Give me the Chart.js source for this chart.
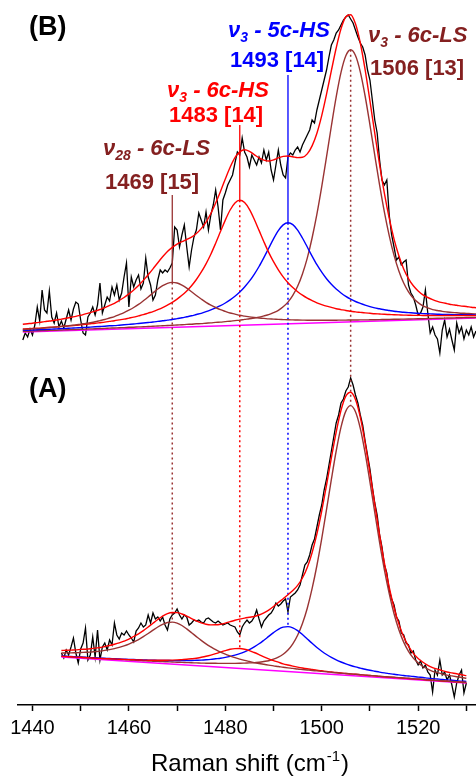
<!DOCTYPE html>
<html>
<head>
<meta charset="utf-8">
<title>Raman spectra</title>
<script src="https://cdn.jsdelivr.net/npm/chart.js"></script>
<style>
  html, body { margin: 0; padding: 0; background: #fff; }
  #wrap { width: 476px; height: 777px; }
</style>
</head>
<body>
<div id="wrap"><canvas id="ramanChart" width="476" height="777"></canvas></div>
<script>
// Raman shift sampling (cm-1): raw spectra every 0.5, fitted curves every 1
var rawStep = 0.5;
var fitStep = 1;
var startB = 1438;
var startA = 1446;

// band assignments
var bandCenters = [1469, 1483, 1493, 1506];
var bandWidths = [15, 14, 14, 13];
var bandModes = ['28', '3', '3', '3'];
var bandStates = ['6c-LS', '6c-HS', '5c-HS', '6c-LS'];

// ---- spectrum (B), intensities are offset above (A) ----
var spectrumB = [
  365, 372, 368, 376, 370, 380, 398, 384, 415, 395, 392, 414, 388, 382, 392, 378, 384, 377, 386, 395,
  385, 396, 403, 401, 385, 372, 370, 388, 392, 398, 390, 400, 422, 392, 400, 408, 404, 418, 410, 420,
  405, 412, 428, 442, 398, 428, 418, 425, 430, 416, 422, 447, 428, 420, 405, 410, 425, 435, 432, 435,
  433, 437, 442, 478, 475, 458, 470, 480, 458, 438, 455, 468, 475, 492, 485, 478, 493, 475, 490, 500,
  515, 498, 475, 505, 512, 520, 525, 530, 542, 553, 550, 567, 553, 548, 538, 550, 545, 540, 548, 542,
  555, 545, 553, 535, 525, 540, 555, 540, 530, 527, 548, 552, 550, 555, 558, 553, 560, 565, 570, 575,
  585, 582, 595, 605, 615, 625, 635, 648, 660, 665, 672, 675, 680, 685, 688, 690, 686, 682, 675, 668,
  662, 658, 650, 635, 625, 605, 585, 572, 545, 525, 520, 525, 490, 470, 458, 445, 448, 440, 443, 445,
  420, 412, 408, 400, 390, 392, 398, 415, 392, 372, 378, 370, 366, 352, 375, 385, 368, 376, 365, 355,
  382, 372, 378, 366, 375, 370, 378, 368, 374
];
var envelopeB = [
  380.8, 381.3, 381.8, 382.4, 383.0, 383.7, 384.3, 385.0, 385.9, 386.7,
  387.7, 388.6, 389.8, 391.1, 392.3, 393.8, 395.5, 397.3, 399.6, 401.7,
  404.5, 407.5, 411.1, 415.0, 419.5, 424.6, 430.2, 436.1, 442.3, 448.2,
  453.5, 457.6, 460.9, 463.3, 465.5, 467.9, 471.5, 476.4, 482.9, 491.5,
  502.0, 513.6, 526.0, 537.7, 547.3, 553.1, 555.2, 553.7, 550.4, 547.1,
  544.9, 544.0, 545.2, 547.1, 548.6, 549.0, 548.3, 547.4, 547.7, 551.1,
  559.1, 571.8, 589.4, 610.8, 634.3, 657.0, 676.2, 688.3, 690.3, 681.2,
  662.0, 635.3, 604.1, 571.8, 540.4, 511.7, 486.8, 465.9, 449.2, 436.1,
  426.4, 419.2, 414.1, 410.2, 407.5, 405.4, 403.7, 402.4, 401.4, 400.4,
  399.7, 398.9, 398.5, 397.8, 397.3
];
var band1469B = [
  375.5, 375.8, 376.1, 376.4, 376.8, 377.2, 377.6, 378.0, 378.5, 379.0,
  379.6, 380.1, 380.9, 381.6, 382.4, 383.3, 384.4, 385.5, 387.0, 388.4,
  390.3, 392.3, 394.8, 397.5, 400.6, 404.2, 408.0, 412.0, 416.0, 419.3,
  421.7, 422.6, 422.0, 419.9, 416.9, 413.2, 409.5, 406.0, 402.7, 399.9,
  397.5, 395.3, 393.6, 392.0, 390.9, 389.7, 388.9, 388.1, 387.5, 387.0,
  386.6, 386.1, 385.9, 385.6, 385.4, 385.2, 385.1, 385.0, 384.9, 384.8,
  384.8, 384.8, 384.8, 384.7, 384.8, 384.8, 384.9, 384.9, 385.0, 385.0,
  385.1, 385.1, 385.2, 385.3, 385.4, 385.5, 385.6, 385.7, 385.8, 385.9,
  386.0, 386.1, 386.2, 386.3, 386.5, 386.6, 386.7, 386.8, 387.0, 387.0,
  387.2, 387.3, 387.5, 387.5, 387.6
];
var band1483B = [
  376.0, 376.2, 376.6, 376.8, 377.1, 377.5, 377.8, 378.1, 378.6, 378.8,
  379.3, 379.7, 380.2, 380.7, 381.2, 381.7, 382.3, 382.9, 383.6, 384.3,
  385.1, 385.9, 386.9, 387.9, 389.1, 390.3, 391.9, 393.4, 395.3, 397.4,
  399.9, 402.6, 405.9, 409.7, 414.1, 419.3, 425.5, 432.8, 441.2, 450.8,
  461.8, 473.4, 484.9, 495.0, 502.1, 504.7, 502.4, 495.6, 485.8, 474.6,
  463.3, 452.6, 443.3, 435.2, 428.2, 422.3, 417.4, 413.3, 409.8, 406.8,
  404.4, 402.2, 400.4, 398.8, 397.6, 396.3, 395.4, 394.5, 393.8, 393.1,
  392.6, 392.1, 391.7, 391.3, 391.0, 390.7, 390.5, 390.3, 390.1, 389.9,
  389.8, 389.6, 389.7, 389.5, 389.5, 389.5, 389.4, 389.4, 389.5, 389.4,
  389.5, 389.4, 389.5, 389.5, 389.5
];
var band1493B = [
  374.6, 374.8, 375.0, 375.2, 375.5, 375.6, 375.9, 376.1, 376.4, 376.6,
  376.9, 377.1, 377.4, 377.6, 377.9, 378.2, 378.5, 378.8, 379.2, 379.4,
  379.8, 380.2, 380.6, 381.0, 381.5, 382.0, 382.5, 383.0, 383.6, 384.2,
  384.9, 385.5, 386.4, 387.2, 388.2, 389.2, 390.5, 391.7, 393.3, 395.1,
  397.1, 399.3, 402.0, 405.1, 408.7, 412.9, 418.0, 423.8, 430.7, 438.5,
  447.4, 456.8, 466.1, 474.3, 480.1, 482.2, 480.4, 474.9, 467.0, 458.0,
  448.9, 440.3, 432.8, 426.2, 420.7, 415.9, 412.0, 408.7, 405.9, 403.5,
  401.6, 399.9, 398.4, 397.1, 396.2, 395.2, 394.5, 393.8, 393.3, 392.7,
  392.4, 392.0, 391.7, 391.4, 391.2, 391.0, 390.8, 390.6, 390.5, 390.4,
  390.3, 390.2, 390.3, 390.2, 390.1
];
var band1506B = [
  373.7, 373.8, 374.0, 374.2, 374.4, 374.5, 374.7, 374.8, 375.0, 375.2,
  375.4, 375.5, 375.7, 375.9, 376.1, 376.2, 376.5, 376.6, 376.9, 377.0,
  377.3, 377.4, 377.7, 377.8, 378.1, 378.2, 378.5, 378.7, 379.0, 379.2,
  379.5, 379.7, 380.0, 380.2, 380.6, 380.8, 381.2, 381.4, 381.8, 382.1,
  382.6, 382.9, 383.4, 383.8, 384.4, 384.9, 385.6, 386.2, 387.0, 387.9,
  389.1, 390.3, 392.3, 394.7, 398.2, 402.9, 409.6, 418.7, 431.1, 446.9,
  467.0, 490.8, 518.3, 548.3, 579.0, 608.1, 632.6, 649.2, 655.2, 649.5,
  633.2, 609.0, 580.2, 549.8, 520.1, 492.9, 469.4, 449.6, 434.1, 422.0,
  413.2, 406.8, 402.4, 399.2, 397.1, 395.4, 394.5, 393.6, 393.0, 392.5,
  392.2, 391.8, 391.6, 391.3, 391.1
];
var baselineShiftB = [1438, 1532];
var baselineB = [373.0, 387.0];

// ---- spectrum (A) ----
var spectrumA = [
  52, 47, 55, 50, 58, 67, 52, 42, 56, 62, 77, 45, 50, 68, 48, 75, 45, 58, 62, 55,
  65, 60, 82, 70, 66, 72, 70, 74, 70, 67, 63, 74, 77, 82, 78, 80, 90, 82, 92, 86,
  88, 84, 88, 80, 75, 86, 90, 92, 96, 90, 86, 90, 88, 80, 82, 85, 84, 85, 83, 82,
  86, 87, 85, 83, 82, 84, 82, 80, 81, 82, 80, 79, 78, 73, 70, 78, 82, 85, 82, 84,
  88, 95, 86, 78, 84, 87, 90, 92, 96, 102, 99, 101, 104, 106, 93, 108, 110, 112, 115, 120,
  130, 140, 143, 150, 160, 166, 178, 190, 200, 215, 226, 240, 254, 268, 282, 290, 302, 306, 314, 318,
  327, 320, 310, 302, 290, 280, 264, 250, 236, 218, 202, 190, 170, 158, 140, 132, 115, 106, 100, 88,
  84, 72, 70, 62, 60, 52, 54, 45, 40, 44, 37, 40, 33, 30, 13, 35, 30, 45, 30, 33,
  25, 30, 20, 8, 22, 30, 35, 12, 22
];
var envelopeA = [
  54.5, 54.7, 54.9, 55.1, 55.6, 55.8, 56.2, 56.9, 57.5, 58.5,
  59.5, 60.7, 62.1, 63.9, 65.9, 68.5, 71.1, 74.4, 78.0, 81.8,
  85.5, 88.9, 91.4, 92.5, 92.4, 91.0, 88.9, 86.4, 84.1, 82.1,
  80.7, 80.1, 80.2, 80.8, 81.9, 83.3, 84.7, 85.9, 86.9, 87.7,
  88.5, 90.0, 92.2, 94.9, 98.5, 102.5, 106.3, 110.2, 114.5, 119.6,
  127.0, 137.5, 152.3, 171.1, 194.0, 220.0, 247.1, 272.9, 294.7, 308.9,
  312.8, 305.5, 287.8, 262.2, 232.3, 201.0, 170.2, 142.2, 117.9, 97.3,
  81.1, 68.2, 58.8, 51.6, 46.5, 42.7, 39.7, 37.4, 35.9, 34.3,
  33.0, 32.1, 31.2, 30.2, 29.4
];
var band1469A = [
  52.0, 52.1, 52.1, 52.3, 52.5, 52.7, 52.9, 53.4, 53.9, 54.6,
  55.4, 56.4, 57.6, 59.1, 60.9, 63.1, 65.4, 68.3, 71.5, 74.8,
  78.0, 80.7, 82.5, 82.9, 81.9, 79.5, 76.1, 72.3, 68.4, 64.6,
  61.1, 58.1, 55.3, 52.9, 50.8, 49.0, 47.3, 45.9, 44.6, 43.5,
  42.4, 41.5, 40.7, 39.9, 39.1, 38.5, 37.7, 37.1, 36.6, 36.0,
  35.5, 35.0, 34.5, 34.1, 33.6, 33.2, 32.7, 32.2, 31.8, 31.5,
  31.0, 30.7, 30.3, 29.9, 29.5, 29.2, 28.7, 28.4, 28.0, 27.7,
  27.4, 27.0, 26.7, 26.3, 26.0, 25.6, 25.2, 24.9, 24.6, 24.2,
  23.9, 23.6, 23.3, 22.9, 22.6
];
var band1483A = [
  48.7, 48.4, 48.2, 47.9, 47.7, 47.4, 47.1, 46.8, 46.6, 46.4,
  46.2, 46.0, 45.8, 45.6, 45.4, 45.2, 45.0, 44.9, 44.8, 44.7,
  44.7, 44.7, 44.8, 44.9, 45.1, 45.4, 45.7, 46.2, 46.8, 47.7,
  48.7, 49.9, 51.3, 52.9, 54.4, 55.7, 56.4, 56.5, 55.8, 54.4,
  52.5, 50.4, 48.2, 46.2, 44.4, 42.8, 41.2, 40.0, 38.9, 37.9,
  37.0, 36.2, 35.5, 34.8, 34.2, 33.6, 33.0, 32.5, 32.0, 31.5,
  31.1, 30.7, 30.3, 29.9, 29.5, 29.1, 28.6, 28.2, 27.9, 27.5,
  27.2, 26.8, 26.5, 26.1, 25.8, 25.5, 25.0, 24.7, 24.4, 24.0,
  23.7, 23.4, 23.1, 22.8, 22.4
];
var band1493A = [
  49.0, 48.7, 48.5, 48.2, 48.0, 47.7, 47.4, 47.2, 46.9, 46.7,
  46.5, 46.2, 46.0, 45.8, 45.6, 45.5, 45.2, 45.0, 44.9, 44.8,
  44.6, 44.6, 44.5, 44.4, 44.4, 44.4, 44.4, 44.5, 44.7, 44.9,
  45.2, 45.6, 46.2, 46.8, 47.6, 48.6, 49.8, 51.3, 53.2, 55.4,
  58.1, 61.2, 64.8, 68.6, 72.4, 75.7, 77.8, 78.4, 77.2, 74.4,
  70.5, 66.1, 61.7, 57.5, 53.8, 50.5, 47.6, 45.1, 43.0, 41.1,
  39.5, 38.1, 36.9, 35.7, 34.7, 33.8, 32.9, 32.1, 31.4, 30.7,
  30.1, 29.5, 29.0, 28.5, 27.9, 27.5, 26.9, 26.4, 26.0, 25.6,
  25.1, 24.7, 24.3, 23.9, 23.6
];
var band1506A = [
  48.8, 48.6, 48.3, 48.0, 47.8, 47.5, 47.1, 46.9, 46.6, 46.4,
  46.1, 45.9, 45.6, 45.4, 45.1, 44.9, 44.5, 44.3, 44.0, 43.8,
  43.6, 43.4, 43.2, 43.0, 42.8, 42.6, 42.4, 42.2, 42.1, 41.9,
  41.8, 41.7, 41.7, 41.6, 41.6, 41.6, 41.6, 41.7, 41.9, 42.1,
  42.3, 42.8, 43.5, 44.3, 45.8, 47.8, 50.7, 54.9, 61.1, 69.7,
  81.5, 96.8, 116.3, 139.5, 166.3, 195.7, 225.6, 254.0, 277.9, 293.9,
  299.4, 293.3, 276.7, 252.2, 223.2, 192.6, 162.5, 135.1, 111.3, 91.2,
  75.3, 62.9, 53.7, 46.9, 42.1, 38.5, 35.8, 33.7, 32.3, 31.0,
  29.9, 29.1, 28.3, 27.5, 26.8
];
var baselineShiftA = [1446, 1530];
var baselineA = [48.0, 22.0];

// top end of the leader lines under the band labels (intensity units)
var leaderTops = [510, 580, 630, null];

var brown = '#993333';
var textBrown = '#842020';
var lineColors = [brown, '#ff0000', '#0000ff', brown];
var textColors = [textBrown, '#ff0000', '#0000ff', textBrown];

function pts(start, step, values) {
  return values.map(function (y, i) { return { x: start + i * step, y: y }; });
}
function at(start, values, x) {
  return values[Math.round((x - start) / fitStep)];
}

function fitLine(start, values, color) {
  return {
    data: pts(start, fitStep, values),
    borderColor: color,
    borderWidth: 1.4,
    pointRadius: 0,
    cubicInterpolationMode: 'monotone',
    fill: false
  };
}
function rawLine(start, values) {
  return {
    data: pts(start, rawStep, values),
    borderColor: '#000000',
    borderWidth: 1.3,
    pointRadius: 0,
    tension: 0,
    fill: false
  };
}
function straight(points, color, dash, width) {
  return {
    data: points,
    borderColor: color,
    borderWidth: width,
    borderDash: dash,
    pointRadius: 0,
    tension: 0,
    fill: false
  };
}

var bandsB = [band1469B, band1483B, band1493B, band1506B];
var bandsA = [band1469A, band1483A, band1493A, band1506A];

var datasets = [];
// envelopes on top
datasets.push(fitLine(startB, envelopeB, '#ff0000'));
datasets.push(fitLine(startA, envelopeA, '#ff0000'));
// fitted bands
for (var k = 0; k < 4; k++) {
  datasets.push(fitLine(startB, bandsB[k], lineColors[k]));
  datasets.push(fitLine(startA, bandsA[k], lineColors[k]));
}
// leaders from the labels and dotted drops from (B) to (A)
for (var k = 0; k < 4; k++) {
  var c = bandCenters[k];
  var topB = at(startB, bandsB[k], c);
  var topA = at(startA, bandsA[k], c);
  if (leaderTops[k] !== null) {
    datasets.push(straight([{ x: c, y: leaderTops[k] }, { x: c, y: topB }], lineColors[k], [], 1.3));
  }
  datasets.push(straight([{ x: c, y: topB }, { x: c, y: topA }], lineColors[k], [2, 3], 1.5));
}
// baselines
datasets.push(straight([{ x: baselineShiftB[0], y: baselineB[0] }, { x: baselineShiftB[1], y: baselineB[1] }], '#ff00ff', [], 1.5));
datasets.push(straight([{ x: baselineShiftA[0], y: baselineA[0] }, { x: baselineShiftA[1], y: baselineA[1] }], '#ff00ff', [], 1.5));
// measured spectra underneath
datasets.push(rawLine(startB, spectrumB));
datasets.push(rawLine(startA, spectrumA));

var FONT = '"Liberation Sans", Arial, sans-serif';

// band labels, panel letters and the axis title
var labelLayout = [
  { x: 103, nameY: 155, valueY: 189 },
  { x: 167, nameY: 97, valueY: 122 },
  { x: 228, nameY: 37, valueY: 67 },
  { x: 368, nameY: 42, valueY: 75 }
];

var textPlugin = {
  id: 'ramanText',
  afterDraw: function (chart) {
    var ctx = chart.ctx;
    ctx.save();
    ctx.textBaseline = 'alphabetic';
    ctx.textAlign = 'left';

    ctx.fillStyle = '#000';
    ctx.font = 'bold 27px ' + FONT;
    ctx.fillText('(B)', 29, 35);
    ctx.fillText('(A)', 29, 397);

    for (var k = 0; k < 4; k++) {
      var L = labelLayout[k];
      ctx.fillStyle = textColors[k];
      ctx.font = 'bold italic 22px ' + FONT;
      var x = L.x;
      ctx.fillText('\u03bd', x, L.nameY);
      x += ctx.measureText('\u03bd').width;
      ctx.font = 'bold italic 14px ' + FONT;
      ctx.fillText(bandModes[k], x, L.nameY + 5);
      x += ctx.measureText(bandModes[k]).width;
      ctx.font = 'bold italic 22px ' + FONT;
      ctx.fillText(' - ' + bandStates[k], x, L.nameY);
      ctx.font = 'bold 22px ' + FONT;
      ctx.fillText(bandCenters[k] + ' [' + bandWidths[k] + ']', L.x + 2, L.valueY);
    }

    // x axis title with superscript
    var area = chart.chartArea;
    ctx.fillStyle = '#000';
    var main = 'Raman shift (cm', sup = '-1', close = ')';
    ctx.font = '24px ' + FONT;
    var w1 = ctx.measureText(main).width;
    var w3 = ctx.measureText(close).width;
    ctx.font = '15px ' + FONT;
    var w2 = ctx.measureText(sup).width;
    var x0 = (area.left + area.right) / 2 + 2 - (w1 + w2 + w3) / 2;
    ctx.font = '24px ' + FONT;
    ctx.fillText(main, x0, 771);
    ctx.font = '15px ' + FONT;
    ctx.fillText(sup, x0 + w1 + 1, 761);
    ctx.font = '24px ' + FONT;
    ctx.fillText(close, x0 + w1 + w2 + 2, 771);
    ctx.restore();
  }
};

var ctxRaman = document.getElementById('ramanChart').getContext('2d');
var ramanChart = new Chart(ctxRaman, {
  type: 'line',
  data: { datasets: datasets },
  options: {
    responsive: false,
    animation: false,
    events: [],
    layout: { padding: { left: 18, right: 0, top: 5, bottom: 39 } },
    scales: {
      x: {
        type: 'linear',
        min: 1437,
        max: 1532,
        afterFit: function (scale) { scale.height = 33; },
        border: { display: true, color: '#000', width: 1.5 },
        grid: { display: true, drawOnChartArea: false, drawTicks: true, tickLength: 6, tickColor: '#000', tickWidth: 1.5 },
        ticks: {
          stepSize: 10,
          includeBounds: false,
          autoSkip: false,
          maxRotation: 0,
          padding: 5,
          color: '#000',
          font: { family: FONT, size: 20 },
          callback: function (v) { return v % 20 === 0 ? String(v) : ''; }
        }
      },
      y: { display: false, min: 0, max: 700 }
    },
    plugins: {
      legend: { display: false },
      tooltip: { enabled: false }
    }
  },
  plugins: [textPlugin]
});
</script>
</body>
</html>
